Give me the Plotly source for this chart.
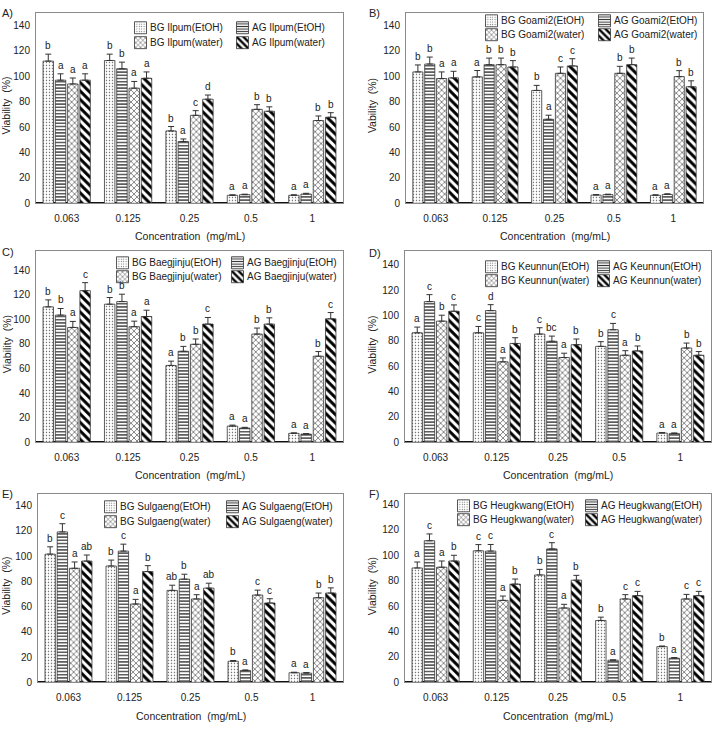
import plotly.graph_objects as go

categories = ["0.063", "0.125", "0.25", "0.5", "1"]
series_suffix = ["(EtOH)", "(EtOH)", "(water)", "(water)"]
series_prefix = ["BG", "AG", "BG", "AG"]

panel_labels = ["A)", "B)", "C)", "D)", "E)", "F)"]
cultivars = ["Ilpum", "Goami2", "Baegjinju", "Keunnun", "Sulgaeng", "Heugkwang"]
y_titles = ["Viability\u00a0 (%)", "Vability\u00a0 (%)", "Viability\u00a0 (%)",
            "Viability\u00a0 (%)", "Viability\u00a0 (%)", "Viability\u00a0 (%)"]
x_title = "Concentration\u00a0 (mg/mL)"

# series order: BG EtOH, AG EtOH, BG water, AG water
A_values = [[112, 112.5, 57, 6.3, 6.3], [97, 106, 48.7, 6.8, 7.3],
            [94, 90.7, 69.3, 74, 65.2], [97, 98.5, 82, 72.5, 67.8]]
A_errors = [[5.5, 5, 3.5, 0.4, 0.4], [5, 5.2, 2, 0.4, 0.6],
            [4.7, 5.3, 3.7, 3.7, 3.6], [5, 5, 3.3, 3.5, 3.6]]
A_letters = [["b", "b", "b", "a", "a"], ["a", "b", "a", "a", "a"],
             ["a", "a", "c", "b", "b"], ["a", "a", "d", "b", "b"]]

B_values = [[103.5, 99.6, 88.9, 6.5, 6.3], [109.7, 109.2, 66.2, 6.8, 7],
            [98.3, 109.2, 102.4, 102.4, 99.8], [98.8, 107.4, 108.2, 109.2, 91.8]]
B_errors = [[5.5, 5, 4, 0.4, 0.4], [5.5, 5.2, 3.2, 0.4, 0.5],
            [5.2, 5.2, 5, 5.5, 4.7], [5.2, 5, 5.7, 5.2, 4.7]]
B_letters = [["b", "a", "b", "a", "a"], ["b", "b", "a", "a", "a"],
             ["a", "b", "c", "b", "b"], ["a", "b", "c", "b", "b"]]

C_values = [[110.1, 112.3, 62.5, 13.2, 7.3], [103.4, 114.4, 74, 11.6, 6.7],
            [93.4, 94, 79.7, 88, 70], [123.3, 102.3, 96.1, 96.1, 100.4]]
C_errors = [[5.7, 5.4, 3.5, 0.8, 0.4], [5.4, 6, 4, 0.6, 0.4],
            [4.9, 4.5, 4.3, 4.9, 3.8], [6.5, 5.1, 5.4, 5.1, 5.1]]
C_letters = [["b", "b", "a", "a", "a"], ["b", "b", "b", "a", "a"],
             ["a", "a", "b", "b", "b"], ["c", "a", "c", "b", "c"]]

D_values = [[86.4, 86.4, 85.4, 75.7, 7.3], [111, 103.9, 79.7, 88.8, 7],
            [95.6, 63.5, 66.9, 68.7, 74.4], [103.4, 78, 77, 72.1, 68.7]]
D_errors = [[4.5, 5, 5, 3.7, 0.4], [5.5, 4.7, 4.1, 5, 0.4],
            [4.7, 3.1, 3.4, 3.6, 3.9], [5, 4.5, 4.5, 3.9, 2.9]]
D_letters = [["a", "c", "c", "b", "a"], ["c", "d", "bc", "c", "a"],
             ["b", "a", "a", "a", "b"], ["c", "b", "b", "b", "b"]]

E_values = [[101.5, 92.1, 72.8, 16.7, 7.6], [119.1, 103.9, 81.7, 9.4, 7.3],
            [90.3, 62, 66, 69.1, 67], [96, 87.7, 74.6, 62.8, 70.7]]
E_errors = [[5.8, 4.7, 4.1, 0.6, 0.4], [6.5, 5.5, 3.9, 0.4, 0.4],
            [5, 3.7, 3.4, 3.9, 3.7], [4.8, 4.7, 3.9, 3.4, 4.1]]
E_letters = [["b", "b", "ab", "b", "a"], ["c", "c", "b", "a", "a"],
             ["a", "a", "a", "c", "b"], ["ab", "b", "ab", "c", "b"]]

F_values = [[90, 103.5, 84.5, 48.7, 28.1], [111.4, 103.3, 105, 17.4, 19],
            [90.6, 64.5, 58.5, 65.6, 65.6], [95.5, 77.3, 80.4, 68.2, 68.2]]
F_errors = [[4.7, 4.9, 4.4, 2.6, 0.5], [5.4, 5.2, 4.9, 0.3, 0.5],
            [4.9, 3.4, 2.9, 3.4, 3.6], [4.5, 4, 3.8, 3.4, 3.4]]
F_letters = [["a", "c", "b", "b", "b"], ["c", "c", "c", "a", "a"],
             ["a", "a", "a", "c", "c"], ["b", "b", "b", "c", "c"]]

y_ticks = [0, 20, 40, 60, 80, 100, 120, 140]

panel_values = [A_values, B_values, C_values, D_values, E_values, F_values]
panel_errors = [A_errors, B_errors, C_errors, D_errors, E_errors, F_errors]
panel_letters = [A_letters, B_letters, C_letters, D_letters, E_letters, F_letters]

# ---------------- layout geometry (pixels) ----------------
W, H = 720, 729
FONT = "Arial, 'Liberation Sans', sans-serif"
TXT = "#222222"
# plot frames: left, right, top, bottom(y=0)
frames = [(36, 343, 13, 205), (406, 703, 13, 205),
          (36, 343, 253, 446), (405, 711, 253, 446),
          (38, 343, 498, 688), (405, 711, 498, 688)]
y_max = [150, 150, 155.6, 151, 149.2, 148.3]
label_pos = [(0, 13), (367, 13), (0, 254), (367, 255), (0, 498), (367, 498)]
ytitle_x = [6.5, 372, 6.5, 372, 6.5, 372]
xtitle_y = [238, 238, 479, 479, 722, 722]
# legend: symbol left x col1, symbol left x col2, row1 y, row2 y
legend_geo = [(140, 242, 28, 43), (491, 604, 21, 35), (122, 237, 265, 279),
              (491, 603, 269, 283), (110, 232, 511, 526), (463, 591, 510, 524)]

patterns = [
    dict(shape=".", fgcolor="#6a6a6a", bgcolor="white", size=3, solidity=0.18, fillmode="replace"),
    dict(shape="-", fgcolor="#333333", bgcolor="white", size=3.2, solidity=0.4, fillmode="replace"),
    dict(shape="x", fgcolor="#444444", bgcolor="white", size=4.2, solidity=0.28, fillmode="replace"),
    dict(shape="\\", fgcolor="#000000", bgcolor="white", size=6, solidity=0.5, fillmode="replace"),
]

BARGAP = 0.2
GROUPGAP = 0.15
NSER = 4

fig = go.Figure()
layout = dict(width=W, height=H, margin=dict(l=0, r=0, t=0, b=0),
              paper_bgcolor="white", plot_bgcolor="white", showlegend=True,
              barmode="group", bargap=BARGAP, bargroupgap=GROUPGAP,
              font=dict(family=FONT, size=10, color=TXT))
annotations = []


def px_x(v):
    return v / W


def px_y(v):
    return 1 - v / H


for p in range(6):
    ax = "" if p == 0 else str(p + 1)
    l, r, t, b = frames[p]
    layout["xaxis" + ax] = dict(
        domain=[px_x(l), px_x(r)], anchor="y" + ax, type="category",
        showline=True, linecolor="#8a8a8a", linewidth=1, mirror=True,
        showgrid=False, ticks="", ticklabelstandoff=6,
        tickfont=dict(size=10, color=TXT), fixedrange=True)
    layout["yaxis" + ax] = dict(
        domain=[px_y(b), px_y(t)], anchor="x" + ax, range=[0, y_max[p]],
        tickvals=y_ticks, showline=True, linecolor="#8a8a8a", linewidth=1,
        mirror=True, showgrid=False, ticks="", ticklabelstandoff=3,
        zeroline=True, zerolinecolor="#111111", zerolinewidth=1.5,
        tickfont=dict(size=10, color=TXT), fixedrange=True)

    s1, s2, ry1, ry2 = legend_geo[p]
    vals = panel_values[p]
    errs = panel_errors[p]
    lets = panel_letters[p]
    for k in range(NSER):
        n = 4 * p + k + 1
        leg = "legend" if n == 1 else "legend%d" % n
        sym_left = s1 if k % 2 == 0 else s2
        row_y = ry1 if k < 2 else ry2
        # plotly draws the bar legend symbol centred 20 px right of the legend's x
        layout[leg] = dict(orientation="v", x=px_x(sym_left + 0.5 - 20),
                           y=px_y(row_y), xanchor="left", yanchor="middle",
                           bgcolor="rgba(0,0,0,0)", borderwidth=0,
                           font=dict(size=10, color=TXT), itemwidth=30)
        name = "%s %s%s" % (series_prefix[k], cultivars[p], series_suffix[k])
        fig.add_trace(go.Bar(
            x=categories, y=vals[k], name="",
            xaxis="x" + ax, yaxis="y" + ax, legend=leg, showlegend=True,
            marker=dict(color="white", pattern=patterns[k],
                        line=dict(color="#333333", width=0.8)),
            error_y=dict(type="data", array=errs[k], arrayminus=[0] * len(errs[k]),
                         symmetric=False, color="#333333", thickness=1, width=3),
            hoverinfo="skip"))
        # legend label text placed right next to the symbol
        annotations.append(dict(x=px_x(sym_left + 8), y=px_y(row_y), xref="paper",
                                yref="paper", text=name, showarrow=False,
                                xanchor="left", yanchor="middle",
                                font=dict(size=10, color=TXT)))
        slot = (1 - BARGAP) / NSER
        off = -(1 - BARGAP) / 2 + (k + 0.5) * slot
        for i in range(len(categories)):
            annotations.append(dict(
                x=i + off, y=vals[k][i] + errs[k][i], xref="x" + ax, yref="y" + ax,
                text=lets[k][i], showarrow=False, yanchor="bottom", xanchor="center",
                font=dict(size=10, color=TXT), yshift=1))

    # panel label
    lx, ly = label_pos[p]
    annotations.append(dict(x=px_x(lx), y=px_y(ly), xref="paper", yref="paper",
                            text=panel_labels[p], showarrow=False, xanchor="left",
                            yanchor="middle", font=dict(size=11, color=TXT)))
    # axis titles
    annotations.append(dict(x=px_x(ytitle_x[p]), y=px_y((t + b) / 2 - 2), xref="paper",
                            yref="paper", text=y_titles[p], textangle=-90,
                            showarrow=False, xanchor="center", yanchor="middle",
                            font=dict(size=10.5, color=TXT)))
    annotations.append(dict(x=px_x((l + r) / 2), y=px_y(xtitle_y[p]), xref="paper",
                            yref="paper", text=x_title, showarrow=False,
                            xanchor="center", yanchor="middle",
                            font=dict(size=10.5, color=TXT)))

layout["annotations"] = annotations
fig.update_layout(**layout)
fig.write_html("out.html")
